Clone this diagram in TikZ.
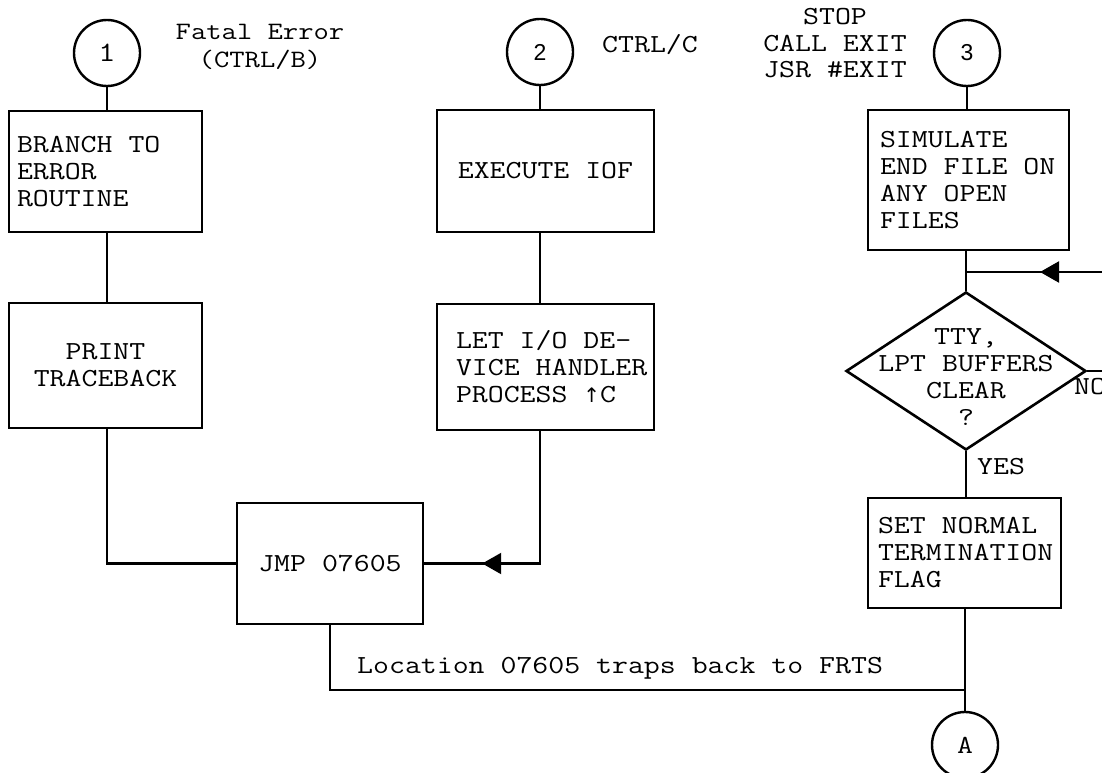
\documentclass[tikz,border=0pt]{standalone}
\usepackage{fontspec}
\setmainfont{Liberation Serif}
\setmonofont{Latin Modern Mono}[FakeStretch=1.19]
\setsansfont{Liberation Sans}
\newfontfamily\arrowfont{DejaVu Sans}
\usetikzlibrary{shapes.geometric,arrows.meta,decorations.markings}
\newcommand\boxfont{\ttfamily\fontsize{26}{27}\selectfont}
\newcommand\lblfont{\ttfamily\fontsize{25}{28}\selectfont}
\newcommand\digfont{\sffamily\fontsize{23}{23}\selectfont}
\newcommand\msp{\nobreak\hspace*{\fontcharwd\font`M}\nobreak}
\tikzset{
  box/.style={draw, line width=2.6pt, rectangle, inner xsep=0pt, inner ysep=0pt, font=\boxfont},
  circ/.style={draw, line width=2.4pt, circle, minimum size=66pt, inner sep=0pt, font=\boxfont},
  dia/.style={draw, line width=2.6pt, diamond, minimum width=240pt, minimum height=158pt, inner sep=0pt},
  txt/.style={inner sep=0pt, font=\boxfont},
  lbl/.style={inner sep=0pt, font=\lblfont, align=center},
  conn/.style={draw, line width=2.2pt},
  midarrow/.style={postaction={decorate, decoration={markings,
      mark=at position #1 with {\arrow{Triangle[length=19pt,width=21pt]}}}}}
}
\begin{document}
\begin{tikzpicture}[x=1pt,y=-1pt]
\useasboundingbox (0,0) rectangle (1102,773);
% connector circles
\node[circ, font=\ttfamily\fontsize{28}{28}\selectfont] (c1) at (107,53) {1};
\node[circ, font=\digfont] (c2) at (540,52) {2};
\node[circ, font=\digfont] (c3) at (967,53) {3};
\node[circ] (cA) at (965,745) {A};
% labels
\node[lbl] (lfatal) at (260,47) {Fatal Error\\(CTRL/B)};
\node[lbl, font=\boxfont] (lctrlc) at (650,45) {CTRL/C};
\node[lbl, font=\ttfamily\fontsize{26}{26.5}\selectfont] (lstop) at (835,43.5) {STOP\\CALL EXIT\\JSR \#EXIT};
% boxes
\node[box, minimum width=193pt, minimum height=121pt, text width=177pt, align=left] (b1) at (105.5,171.5) {BRANCH\msp TO\\ERROR\\ROUTINE};
\node[box, minimum width=193pt, minimum height=125pt, text width=177pt, align=center] (pt) at (105.5,365.5) {PRINT\\TRACEBACK};
\node[box, minimum width=217pt, minimum height=122pt, text width=200pt, align=center] (ex) at (545.5,171) {EXECUTE\msp IOF};
\node[box, minimum width=217pt, minimum height=126pt, text width=179pt, align=left] (let) at (545.5,367) {LET\msp I/O\msp DE-\\VICE\msp HANDLER\\PROCESS\msp{\arrowfont\fontsize{20}{20}\selectfont↑}C};
\node[box, minimum width=186pt, minimum height=121pt, text width=170pt, align=center] (jmp) at (330,563.5) {JMP\msp 07605};
\node[box, minimum width=201pt, minimum height=140pt, text width=177pt, align=left] (sim) at (968.5,180) {SIMULATE\\END\msp FILE\msp ON\\ANY\msp OPEN\\FILES};
\node[dia] (dia) at (966,371) {};
\node[txt, align=center] (dt) at (966,377) {TTY,\\LPT BUFFERS\\CLEAR\\?};
\node[box, minimum width=193pt, minimum height=110pt, text width=173pt, align=left] (set) at (964.5,553) {SET\msp NORMAL\\TERMINATION\\FLAG};
% branch labels
\node[txt, anchor=west] (yes) at (977,467) {YES};
\node[txt, anchor=west] (no) at (1074,387) {NO};
\node[txt, anchor=west] (loc) at (357,668) {Location 07605 traps back to FRTS};
% coordinates
\coordinate (loopIn) at (1110,272);
\coordinate (j1) at (966,272);
\coordinate (noEnd) at (1110,371);
\coordinate (jA) at (965,690);
% connectors
\draw[conn] (c1.south) -- (c1.south |- b1.north);
\draw[conn] (c1.south |- b1.south) -- (c1.south |- pt.north);
\draw[conn] (c1.south |- pt.south) |- (jmp.west);
\draw[conn] (c2.south) -- (c2.south |- ex.north);
\draw[conn] (c2.south |- ex.south) -- (c2.south |- let.north);
\draw[conn, midarrow=190pt] (c2.south |- let.south) |- (jmp.east);
\draw[conn] (c3.south) -- (c3.south |- sim.north);
\draw[conn] (dia.north |- sim.south) -- (dia.north);
\draw[conn, midarrow=70pt] (loopIn) -- (j1);
\draw[conn] (dia.east) -- (noEnd);
\draw[conn] (dia.south) -- (dia.south |- set.north);
\draw[conn] (cA.north |- set.south) -- (cA.north);
\draw[conn] (jmp.south) |- (jA);
\end{tikzpicture}
\end{document}
